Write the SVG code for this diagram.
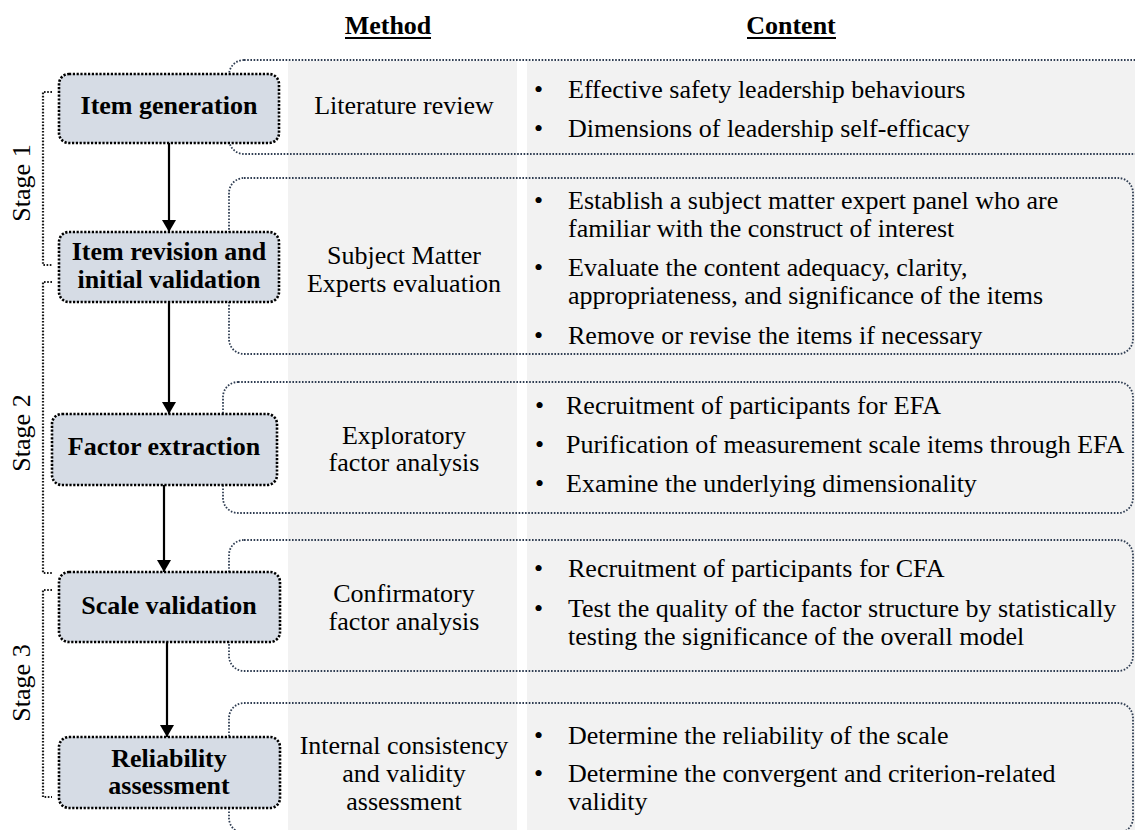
<svg xmlns="http://www.w3.org/2000/svg" width="1135" height="830" viewBox="0 0 1135 830">
  <defs>
    <style>
      .col { fill: #f2f2f2; }
      .sect { fill: none; stroke: #2f3d52; stroke-width: 1.8; stroke-dasharray: 1.6 1.6; }
      .node rect { fill: #d6dce5; stroke: #000; stroke-width: 2.6; stroke-dasharray: 2.2 1.6; }
      .node text { font-family: "Liberation Serif", "Times New Roman", serif; font-weight: bold; font-size: 26px; text-anchor: middle; fill: #000; }
      .hdr { font-family: "Liberation Serif", "Times New Roman", serif; font-weight: bold; font-size: 26px; text-anchor: middle; fill: #000; }
      .m { font-family: "Liberation Serif", "Times New Roman", serif; font-size: 26px; text-anchor: middle; fill: #000; }
      .c { font-family: "Liberation Serif", "Times New Roman", serif; font-size: 26px; fill: #000; }
      .stage { font-family: "Liberation Serif", "Times New Roman", serif; font-size: 26px; text-anchor: middle; fill: #000; }
      .brk { fill: none; stroke: #1a1a1a; stroke-width: 2.2; stroke-dasharray: 1.6 1.6; }
      .arrow { stroke: #000; stroke-width: 2.2; fill: none; }
    </style>
    <marker id="head" viewBox="0 0 12 14" refX="12" refY="7" markerWidth="12" markerHeight="14" markerUnits="userSpaceOnUse" orient="auto">
      <path d="M0,0 L12,7 L0,14 Z" fill="#000"/>
    </marker>
  </defs>

  <rect width="1135" height="830" fill="#fff"/>

  <!-- column backgrounds -->
  <rect class="col" x="288" y="61" width="229" height="769"/>
  <rect class="col" x="527" y="61" width="608" height="769"/>

  <!-- column headers -->
  <text class="hdr" x="388" y="34">Method</text>
  <line x1="345" y1="38" x2="431" y2="38" stroke="#000" stroke-width="2"/>
  <text class="hdr" x="791" y="34">Content</text>
  <line x1="747" y1="38" x2="836" y2="38" stroke="#000" stroke-width="2"/>

  <!-- section outlines -->
  <g id="sections">
    <rect class="sect" x="229" y="60" width="1000" height="94" rx="15"/>
    <rect class="sect" x="229" y="178" width="904" height="176" rx="15"/>
    <rect class="sect" x="223" y="382" width="910" height="131" rx="15"/>
    <rect class="sect" x="229" y="540" width="904" height="131" rx="15"/>
    <rect class="sect" x="229" y="703" width="904" height="130" rx="15"/>
  </g>

  <!-- stage brackets -->
  <g id="stages">
    <path class="brk" d="M52,92 H43 V265 H52"/>
    <path class="brk" d="M52,282 H43 V573 H52"/>
    <path class="brk" d="M52,590 H43 V797 H52"/>
    <text class="stage" transform="translate(30,183) rotate(-90)">Stage 1</text>
    <text class="stage" transform="translate(30,433) rotate(-90)">Stage 2</text>
    <text class="stage" transform="translate(30,683) rotate(-90)">Stage 3</text>
  </g>

  <!-- connectors -->
  <g id="connectors">
    <line class="arrow" x1="169" y1="143" x2="169" y2="232" marker-end="url(#head)"/>
    <line class="arrow" x1="169" y1="302" x2="169" y2="414" marker-end="url(#head)"/>
    <line class="arrow" x1="164" y1="485" x2="164" y2="572" marker-end="url(#head)"/>
    <line class="arrow" x1="167" y1="642" x2="167" y2="737" marker-end="url(#head)"/>
  </g>

  <!-- process steps -->
  <g id="item-generation" class="node">
    <rect x="59" y="74" width="220" height="69" rx="10"/>
    <text x="169" y="114">Item generation</text>
  </g>
  <g id="item-revision" class="node">
    <rect x="59" y="232" width="220" height="70" rx="10"/>
    <text x="169" y="260">Item revision and</text>
    <text x="169" y="288">initial validation</text>
  </g>
  <g id="factor-extraction" class="node">
    <rect x="52" y="414" width="225" height="71" rx="10"/>
    <text x="164" y="455">Factor extraction</text>
  </g>
  <g id="scale-validation" class="node">
    <rect x="59" y="572" width="221" height="70" rx="10"/>
    <text x="169" y="614">Scale validation</text>
  </g>
  <g id="reliability-assessment" class="node">
    <rect x="59" y="737" width="221" height="71" rx="10"/>
    <text x="169" y="767">Reliability</text>
    <text x="169" y="794">assessment</text>
  </g>

  <!-- method column -->
  <g id="methods">
    <text class="m" x="404" y="114">Literature review</text>
    <text class="m" x="404" y="264">Subject Matter</text>
    <text class="m" x="404" y="292">Experts evaluation</text>
    <text class="m" x="404" y="444">Exploratory</text>
    <text class="m" x="404" y="471">factor analysis</text>
    <text class="m" x="404" y="602">Confirmatory</text>
    <text class="m" x="404" y="630">factor analysis</text>
    <text class="m" x="404" y="754">Internal consistency</text>
    <text class="m" x="404" y="782">and validity</text>
    <text class="m" x="404" y="810">assessment</text>
  </g>

  <!-- content column -->
  <g id="contents">
    <text class="c" x="534" y="98">•</text>
    <text class="c" x="568" y="98">Effective safety leadership behaviours</text>
    <text class="c" x="534" y="137">•</text>
    <text class="c" x="568" y="137">Dimensions of leadership self-efficacy</text>

    <text class="c" x="534" y="209">•</text>
    <text class="c" x="568" y="209">Establish a subject matter expert panel who are</text>
    <text class="c" x="568" y="237">familiar with the construct of interest</text>
    <text class="c" x="534" y="276">•</text>
    <text class="c" x="568" y="276">Evaluate the content adequacy, clarity,</text>
    <text class="c" x="568" y="304">appropriateness, and significance of the items</text>
    <text class="c" x="534" y="344">•</text>
    <text class="c" x="568" y="344">Remove or revise the items if necessary</text>

    <text class="c" x="535" y="414">•</text>
    <text class="c" x="566" y="414">Recruitment of participants for EFA</text>
    <text class="c" x="535" y="453">•</text>
    <text class="c" x="566" y="453">Purification of measurement scale items through EFA</text>
    <text class="c" x="535" y="492">•</text>
    <text class="c" x="566" y="492">Examine the underlying dimensionality</text>

    <text class="c" x="534" y="577">•</text>
    <text class="c" x="568" y="577">Recruitment of participants for CFA</text>
    <text class="c" x="534" y="617">•</text>
    <text class="c" x="568" y="617">Test the quality of the factor structure by statistically</text>
    <text class="c" x="568" y="645">testing the significance of the overall model</text>

    <text class="c" x="534" y="744">•</text>
    <text class="c" x="568" y="744">Determine the reliability of the scale</text>
    <text class="c" x="534" y="782">•</text>
    <text class="c" x="568" y="782">Determine the convergent and criterion-related</text>
    <text class="c" x="568" y="810">validity</text>
  </g>
</svg>
